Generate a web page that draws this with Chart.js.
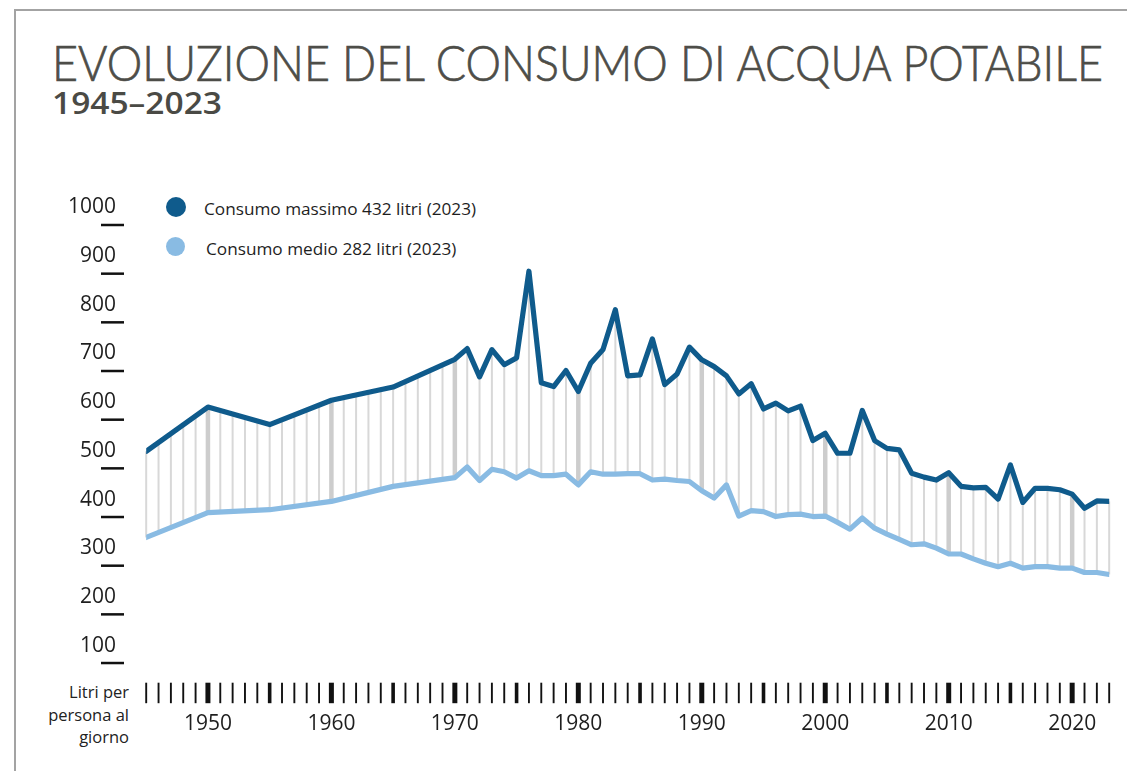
<!DOCTYPE html>
<html>
<head>
<meta charset="utf-8">
<script src="https://cdn.jsdelivr.net/npm/chart.js@4.4.1/dist/chart.umd.min.js"></script>
<style>
  html, body { margin: 0; padding: 0; background: #fff; }
  body { width: 1127px; height: 771px; position: relative; overflow: hidden; font-family: "Open Sans", "Noto Sans", sans-serif; }
  #frame { position: absolute; left: 14px; top: 9px; width: 1200px; height: 900px; border-left: 2px solid #a3a3a3; border-top: 2px solid #a3a3a3; }
  .fit { position: absolute; white-space: nowrap; transform-origin: 0 0; line-height: 1; }
  #title { left: 52px; top: 38px; font-family: Lato, "Open Sans", sans-serif; font-weight: 300; font-size: 49px; color: #4d4d48; -webkit-text-stroke: 0.7px #4d4d48; }
  #subtitle { left: 52px; top: 87px; font-weight: 600; font-size: 31px; color: #4a4a45; }
  .legtext { position: absolute; font-size: 17.2px; line-height: 22px; color: #1e1e1e; white-space: nowrap; }
  .dot { position: absolute; border-radius: 50%; }
  #unit { position: absolute; right: calc(1127px - 129px); top: 681px; text-align: right; font-size: 16.5px; line-height: 22.5px; color: #222; }
  #c { position: absolute; left: 0; top: 0; }
</style>
</head>
<body>
<div id="frame"></div>
<div id="title" class="fit" data-w="1051">EVOLUZIONE DEL CONSUMO DI ACQUA POTABILE</div>
<div id="subtitle" class="fit" data-w="170">1945–2023</div>
<div id="legend"></div>
<div id="unit">Litri per<br>persona al<br>giorno</div>
<canvas id="c" width="1127" height="771"></canvas>
<script>
// ---- data ----
const seriesNames = ['Consumo massimo 432 litri (2023)', 'Consumo medio 282 litri (2023)'];
const seriesColors = ['#0f5b8c', '#89bbe3'];

const years = [1945, 1950, 1955, 1960, 1965,
  1970, 1971, 1972, 1973, 1974, 1975, 1976, 1977, 1978, 1979,
  1980, 1981, 1982, 1983, 1984, 1985, 1986, 1987, 1988, 1989,
  1990, 1991, 1992, 1993, 1994, 1995, 1996, 1997, 1998, 1999,
  2000, 2001, 2002, 2003, 2004, 2005, 2006, 2007, 2008, 2009,
  2010, 2011, 2012, 2013, 2014, 2015, 2016, 2017, 2018, 2019,
  2020, 2021, 2022, 2023];

const maxValues = [535, 626, 590, 640, 667,
  724, 746, 688, 744, 713, 727, 905, 676, 668, 701,
  658, 716, 744, 826, 690, 692, 766, 672, 694, 749,
  723, 709, 690, 653, 674, 622, 634, 618, 628, 557,
  572, 531, 531, 619, 557, 541, 538, 490, 482, 476,
  491, 463, 460, 461, 437, 507, 430, 459, 459, 456,
  447, 418, 433, 432];

const meanValues = [358, 409, 415, 432, 463,
  481, 503, 475, 498, 493, 480, 495, 485, 485, 488,
  466, 493, 488, 488, 489, 489, 476, 478, 475, 473,
  454, 439, 466, 402, 413, 411, 401, 405, 406, 401,
  402, 389, 375, 398, 377, 365, 354, 343, 345, 336,
  324, 324, 314, 305, 298, 305, 295, 298, 298, 295,
  295, 286, 286, 282];

const yTickValues = [100, 200, 300, 400, 500, 600, 700, 800, 900, 1000];
const yTickLabels = ['100', '200', '300', '400', '500', '600', '700', '800', '900', '1000'];
const xTickYears  = [1950, 1960, 1970, 1980, 1990, 2000, 2010, 2020];
const xTickLabels = ['1950', '1960', '1970', '1980', '1990', '2000', '2010', '2020'];

// ---- fit title widths ----
document.querySelectorAll('.fit').forEach(el => {
  const w = el.getBoundingClientRect().width;
  const target = parseFloat(el.dataset.w);
  el.style.transform = 'scaleX(' + (target / w) + ')';
});

// ---- legend ----
const legend = document.getElementById('legend');
const legPos = [{cy: 207, ty: 198, tx: 204}, {cy: 246.5, ty: 238, tx: 206}];
seriesNames.forEach((name, i) => {
  const d = document.createElement('div');
  d.className = 'dot';
  const r = i === 0 ? 10 : 9.7;
  d.style.cssText = `left:${175.5 - r}px;top:${legPos[i].cy - r}px;width:${2*r}px;height:${2*r}px;background:${seriesColors[i]}`;
  legend.appendChild(d);
  const t = document.createElement('div');
  t.className = 'legtext';
  t.style.left = legPos[i].tx + 'px';
  t.style.top = legPos[i].ty + 'px';
  t.textContent = name;
  legend.appendChild(t);
});

// ---- helpers ----
function yOnPath(points, px) {
  for (let i = 0; i < points.length - 1; i++) {
    const a = points[i], b = points[i + 1];
    if (px >= a.x - 0.01 && px <= b.x + 0.01) {
      const t = (b.x === a.x) ? 0 : (px - a.x) / (b.x - a.x);
      return a.y + t * (b.y - a.y);
    }
  }
  return points[points.length - 1].y;
}

const connectors = {
  id: 'connectors',
  beforeDatasetsDraw(chart) {
    const {ctx, scales: {x}} = chart;
    const pMax = chart.getDatasetMeta(0).data;
    const pMean = chart.getDatasetMeta(1).data;
    ctx.save();
    for (let yr = x.min; yr <= x.max; yr++) {
      const px = x.getPixelForValue(yr);
      const y1 = yOnPath(pMax, px), y2 = yOnPath(pMean, px);
      const decade = yr % 10 === 0;
      ctx.strokeStyle = decade ? '#cdcdcd' : '#d8d8d8';
      ctx.lineWidth = decade ? 4.5 : 2;
      ctx.beginPath(); ctx.moveTo(px, y1); ctx.lineTo(px, y2); ctx.stroke();
    }
    ctx.restore();
  }
};

const axisDecor = {
  id: 'axisDecor',
  afterDraw(chart) {
    const {ctx, scales: {x, y}} = chart;
    ctx.save();
    ctx.strokeStyle = '#111';
    ctx.fillStyle = '#1e1e1e';
    ctx.font = '21px "Open Sans", "Noto Sans", sans-serif';
    ctx.textAlign = 'right';
    ctx.textBaseline = 'middle';
    yTickValues.forEach((v, i) => {
      const py = y.getPixelForValue(v);
      ctx.lineWidth = 2.5;
      ctx.beginPath(); ctx.moveTo(101, py); ctx.lineTo(124, py); ctx.stroke();
      ctx.fillText(yTickLabels[i], 116, py - 17.5);
    });
    const base = y.getPixelForValue(0);
    const tTop = base - 29, tBot = base - 8.5;
    for (let yr = x.min; yr <= x.max; yr++) {
      const px = x.getPixelForValue(yr);
      ctx.lineWidth = (yr % 10 === 0) ? 5 : (yr % 5 === 0 && yr !== x.min) ? 3.6 : 1.9;
      ctx.beginPath(); ctx.moveTo(px, tTop); ctx.lineTo(px, tBot); ctx.stroke();
    }
    ctx.textAlign = 'center';
    xTickYears.forEach((yr, i) => {
      ctx.fillText(xTickLabels[i], x.getPixelForValue(yr), base + 12.5);
    });
    ctx.restore();
  }
};

new Chart(document.getElementById('c'), {
  type: 'line',
  data: {
    datasets: [
      { label: seriesNames[0], data: years.map((yr, i) => ({x: yr, y: maxValues[i]})),
        borderColor: seriesColors[0], borderWidth: 5.2, pointRadius: 0, tension: 0,
        borderJoinStyle: 'round', borderCapStyle: 'round', fill: false },
      { label: seriesNames[1], data: years.map((yr, i) => ({x: yr, y: meanValues[i]})),
        borderColor: seriesColors[1], borderWidth: 5.2, pointRadius: 0, tension: 0,
        borderJoinStyle: 'round', borderCapStyle: 'round', fill: false }
    ]
  },
  options: {
    responsive: false,
    animation: false,
    layout: { padding: { left: 146.2, right: 17.8, top: 225, bottom: 59.3 } },
    scales: {
      x: { type: 'linear', min: 1945, max: 2023, display: false },
      y: { type: 'linear', min: 0, max: 1000, display: false }
    },
    plugins: { legend: { display: false }, tooltip: { enabled: false } }
  },
  plugins: [connectors, axisDecor]
});
</script>
</body>
</html>
